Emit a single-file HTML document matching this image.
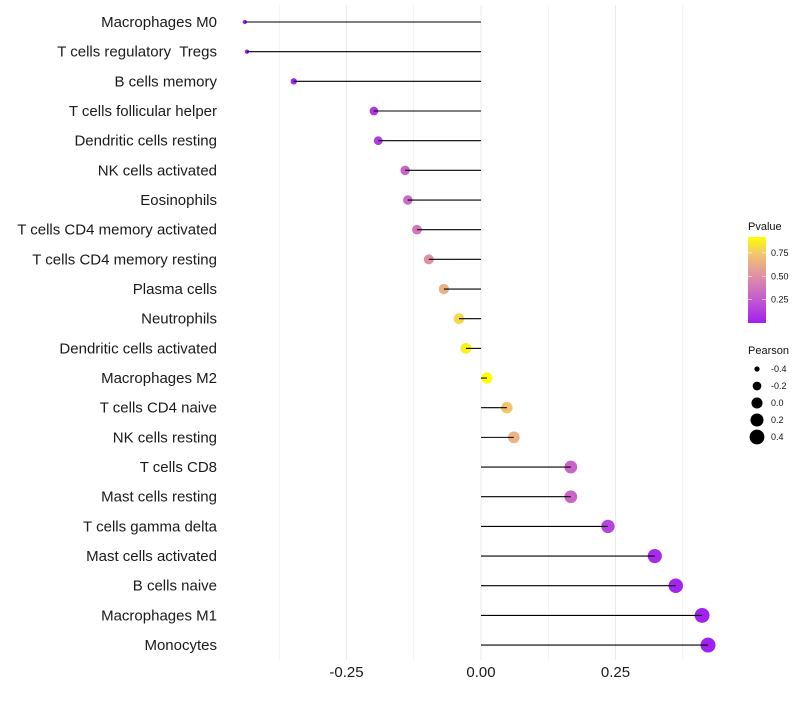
<!DOCTYPE html>
<html><head><meta charset="utf-8"><style>
body{margin:0;background:#fff;font-family:"Liberation Sans",sans-serif}
text{white-space:pre}
</style></head><body>
<svg id="c" width="800" height="700" xmlns="http://www.w3.org/2000/svg">
<defs><linearGradient id="pg" x1="0" y1="1" x2="0" y2="0">
<stop offset="0" stop-color="#a020f0"/><stop offset="0.27" stop-color="#c35ad0"/><stop offset="0.54" stop-color="#de8fa6"/><stop offset="0.81" stop-color="#f2c86c"/><stop offset="1" stop-color="#ffff00"/>
</linearGradient></defs>
</svg>
<script>
const categories=["Macrophages M0","T cells regulatory  Tregs","B cells memory","T cells follicular helper","Dendritic cells resting","NK cells activated","Eosinophils","T cells CD4 memory activated","T cells CD4 memory resting","Plasma cells","Neutrophils","Dendritic cells activated","Macrophages M2","T cells CD4 naive","NK cells resting","T cells CD8","Mast cells resting","T cells gamma delta","Mast cells activated","B cells naive","Macrophages M1","Monocytes"];
const pearson=[-0.439,-0.435,-0.348,-0.199,-0.191,-0.141,-0.136,-0.119,-0.097,-0.069,-0.041,-0.028,0.011,0.048,0.061,0.167,0.167,0.236,0.323,0.362,0.411,0.422];
const pvalue=[0.001,0.002,0.02,0.1,0.12,0.3,0.32,0.38,0.5,0.65,0.8,0.87,0.92,0.73,0.66,0.3,0.3,0.15,0.05,0.02,0.005,0.003];
const xTicks=[-0.25,0,0.25];
const xTickLabels=["-0.25","0.00","0.25"];
const pTicks=[0.25,0.5,0.75];
const pTickLabels=["0.25","0.50","0.75"];
const sizeLegend=[-0.4,-0.2,0.0,0.2,0.4];
const sizeLegendLabels=["-0.4","-0.2","0.0","0.2","0.4"];

const svg=document.getElementById('c');
const NS="http://www.w3.org/2000/svg";
function mk(t,a){const e=document.createElementNS(NS,t);for(const k in a)e.setAttribute(k,a[k]);svg.appendChild(e);return e;}
const x=v=>481+v*538;
const y=i=>22+i*29.67;
const pmin=0,pmax=0.92;
const stops=[[0,[160,32,240]],[0.27,[195,90,208]],[0.54,[222,143,166]],[0.81,[242,200,108]],[1,[255,255,0]]];
function col(p){let t=Math.max(0,Math.min(1,(p-pmin)/(pmax-pmin)));for(let i=1;i<stops.length;i++){if(t<=stops[i][0]){const a=stops[i-1],b=stops[i];const f=(t-a[0])/(b[0]-a[0]);return 'rgb('+a[1].map((c,j)=>Math.round(c+(b[1][j]-c)*f)).join(',')+')';}}return 'rgb(255,255,0)';}
const vmin=Math.min(...pearson),vmax=Math.max(...pearson);
function rad(v){const f=(v-vmin)/(vmax-vmin);return Math.sqrt(4.5+f*(56-4.5));}
for(let g=-0.375;g<=0.42;g+=0.125){const l=mk('line',{x1:x(g),x2:x(g),y1:5,y2:660,stroke:'#ebebeb','stroke-width':Math.abs(g/0.25-Math.round(g/0.25))<1e-6?1:0.6});

}
xTicks.forEach((t,i)=>{const e=mk('text',{x:x(t),y:677,'text-anchor':'middle','font-size':15,fill:'#1a1a1a'});e.textContent=xTickLabels[i];

});
categories.forEach((c,i)=>{
const lb=mk('text',{x:217,y:y(i)+5,'text-anchor':'end','font-size':15,fill:'#1a1a1a'});lb.textContent=c;


const d=mk('circle',{cx:x(pearson[i]),cy:y(i),r:rad(pearson[i]),fill:col(pvalue[i])});


const s=mk('line',{x1:x(0),x2:x(pearson[i]),y1:y(i),y2:y(i),stroke:'#000','stroke-width':1.1});


});
const t1=mk('text',{x:748,y:230,'font-size':11,fill:'#111'});t1.textContent='Pvalue';


const bar=mk('rect',{x:748,y:237,width:18,height:86,fill:'url(#pg)'});


const py=p=>323-(p-pmin)/(pmax-pmin)*86;
pTicks.forEach((p,i)=>{mk('line',{x1:748,x2:752,y1:py(p),y2:py(p),stroke:'#fff','stroke-width':0.6});mk('line',{x1:762,x2:766,y1:py(p),y2:py(p),stroke:'#fff','stroke-width':0.6});
const e=mk('text',{x:771,y:py(p)+3,'font-size':9,fill:'#111'});e.textContent=pTickLabels[i];

});
const t2=mk('text',{x:748,y:354,'font-size':11,fill:'#111'});t2.textContent='Pearson';


sizeLegend.forEach((v,i)=>{const cy=369+i*17;
const c=mk('circle',{cx:757,cy:cy,r:rad(v),fill:'#000'});


const e=mk('text',{x:771,y:cy+3,'font-size':9,fill:'#111'});e.textContent=sizeLegendLabels[i];

});
</script>
</body></html>
